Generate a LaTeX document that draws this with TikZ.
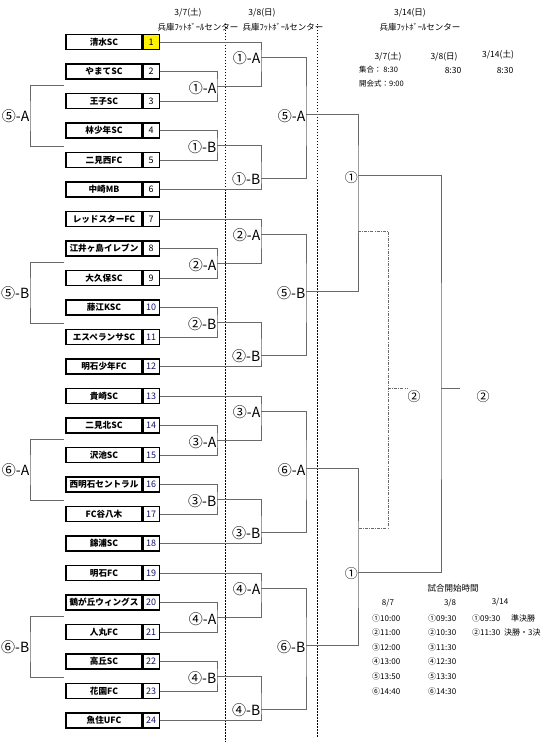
\documentclass[tikz,border=0pt]{standalone}
\usepackage{fontspec}
\setmainfont{Noto Sans CJK JP}
\usetikzlibrary{positioning}
\definecolor{numblue}{RGB}{20,20,110}
\definecolor{linegray}{RGB}{105,105,105}

\begin{document}
\begin{tikzpicture}[
	x=1pt, y=-1pt,
	teambox/.style={draw, line width=1.1pt, minimum width=76pt, minimum height=15pt, inner sep=0pt, font=\fontsize{8.6}{10}\selectfont\bfseries},
	numbox/.style={draw, line width=1.1pt, minimum width=16pt, minimum height=15pt, inner sep=0pt, font=\fontsize{9}{10}\selectfont},
	bracket/.style={draw=linegray, line width=0.9pt},
	thirdline/.style={draw=linegray, line width=0.8pt, dash pattern=on 3pt off 1.2pt on 0.8pt off 1.2pt},
	dayline/.style={line width=0.6pt, dash pattern=on 1.5pt off 1.5pt},
	rlabel/.style={anchor=east, inner sep=0.5pt, font=\fontsize{14}{15}\selectfont},
	finlabel/.style={inner sep=0pt, font=\fontsize{13}{14}\selectfont},
	headtext/.style={inner sep=0pt, font=\fontsize{8.5}{10}\selectfont},
	schedtext/.style={inner sep=0pt, font=\fontsize{8}{10}\selectfont},
	notetext/.style={inner sep=0pt, font=\fontsize{7.5}{9}\selectfont}
	]
	\useasboundingbox (0,0) rectangle (555,743);

	% day separators
	\draw[dayline] (225,24) -- (225,742);
	\draw[dayline] (317,24) -- (317,737);

	% headers
	\node[headtext] (d1) at (188,13) {3/7(土)};
	\node[headtext] (v1) at (198,27) {兵庫ﾌｯﾄﾎﾞｰﾙセンター};
	\node[headtext] (d2) at (262,13) {3/8(日)};
	\node[headtext] (v2) at (283,27) {兵庫ﾌｯﾄﾎﾞｰﾙセンター};
	\node[headtext] (d3) at (410,13) {3/14(日)};
	\node[headtext] (v3) at (420,27) {兵庫ﾌｯﾄﾎﾞｰﾙセンター};

	% teams
	\foreach \name [count=\i] in {清水SC, やまてSC, 王子SC, 林少年SC, 二見西FC, 中崎MB,
		レッドスターFC, 江井ヶ島イレブン, 大久保SC, 藤江KSC, エスペランサSC, 明石少年FC,
		貴崎SC, 二見北SC, 沢池SC, 西明石セントラル, FC谷八木, 錦浦SC,
		明石FC, 鶴が丘ウィングス, 人丸FC, 高丘SC, 花園FC, 魚住UFC} {
		\pgfmathsetmacro\yy{42+29.5*(\i-1)}
		\ifnum\i=1 \def\nfill{yellow}\else\def\nfill{white}\fi
		\node[teambox] (t\i) at (104,\yy) {\name};
		\node[numbox, fill=\nfill, right=0pt of t\i] (n\i) {\ifnum\i>9\color{numblue}\fi\i};
	}

	% blocks of six
	\foreach \g/\c/\s in {0/①/⑤-A, 1/②/⑤-B, 2/③/⑥-A, 3/④/⑥-B} {
		\pgfmathsetmacro\yo{42+177*\g}
		\pgfmathtruncatemacro\ta{6*\g+1}
		\pgfmathtruncatemacro\tb{6*\g+2}
		\pgfmathtruncatemacro\tc{6*\g+3}
		\pgfmathtruncatemacro\td{6*\g+4}
		\pgfmathtruncatemacro\te{6*\g+5}
		\pgfmathtruncatemacro\tf{6*\g+6}
		\coordinate (p\g) at (217,\yo+44.25);
		\coordinate (q\g) at (217,\yo+103.25);
		\coordinate (pa\g) at (261,\yo+15);
		\coordinate (pb\g) at (261,\yo+136);
		\coordinate (s\g) at (306,\yo+72);
		\draw[bracket] (n\tb.east) -| (p\g) |- (n\tc.east);
		\draw[bracket] (n\td.east) -| (q\g) |- (n\te.east);
		\draw[bracket] (n\ta.east) -| (pa\g) |- (p\g);
		\draw[bracket] (n\tf.east) -| (pb\g) |- (q\g);
		\draw[bracket] (pa\g) -| (s\g) |- (pb\g);
		\node[rlabel] (la\g) at ([yshift=-2pt]p\g) {\c-A};
		\node[rlabel] (lb\g) at ([yshift=-2pt]q\g) {\c-B};
		\node[rlabel] (ma\g) at ([yshift=-1pt]pa\g) {\c-A};
		\node[rlabel] (mb\g) at ([yshift=-1pt]pb\g) {\c-B};
		\node[rlabel] (ms\g) at ([yshift=-2pt]s\g) {\s};
		% left side pairing
		\coordinate (lu\g) at (64,\yo+43);
		\coordinate (ld\g) at (64,\yo+104);
		\coordinate (lm\g) at (30,\yo+74);
		\draw[bracket] (lu\g) -| (lm\g) |- (ld\g);
		\node[rlabel] (ls\g) at (lm\g) {\s};
	}

	% semifinals and final
	\coordinate (f0) at (358,175);
	\coordinate (f1) at (358,572);
	\coordinate (fin) at (441,388);
	\coordinate (champ) at (460,388);
	\draw[bracket] (s0) -| (f0) |- (s1);
	\draw[bracket] (s2) -| (f1) |- (s3);
	\draw[bracket] (f0) -| (fin) |- (f1);
	\draw[bracket] (fin) -- (champ);
	\node[finlabel, anchor=east] (sf0) at ([yshift=-3pt]f0) {①};
	\node[finlabel, anchor=east] (sf1) at ([yshift=-2pt]f1) {①};
	\node[finlabel] (fl) at (483,397) {②};

	% third place
	\coordinate (ta) at (358,231);
	\coordinate (tb) at (358,528);
	\coordinate (tm) at (388,388);
	\coordinate (tc) at (407,388);
	\draw[thirdline] (ta) -| (tm) |- (tb);
	\draw[thirdline] (tm) -- (tc);
	\node[finlabel] (tl) at (414,397) {②};

	% gathering times
	\node[headtext] (g1) at (388,57) {3/7(土)};
	\node[headtext] (g2) at (444,57) {3/8(日)};
	\node[headtext] (g3) at (498,55) {3/14(土)};
	\node[notetext, anchor=west] (g4) at (359,70) {集合：\ 8:30};
	\node[headtext] (g5) at (453,70) {8:30};
	\node[headtext] (g6) at (505,70) {8:30};
	\node[notetext, anchor=west] (g7) at (359,84) {開会式：9:00};

	% kick-off times
	\node[schedtext, font=\fontsize{8.5}{10}\selectfont] (k0) at (453,588) {試合開始時間};
	\node[schedtext] (h1) at (388,603) {8/7};
	\node[schedtext] (h2) at (450,603) {3/8};
	\node[schedtext] (h3) at (500,602) {3/14};
	\foreach \a/\b [count=\k] in {①10:00/①09:30, ②11:00/②10:30, ③12:00/③11:30,
		④13:00/④12:30, ⑤13:50/⑤13:30, ⑥14:40/⑥14:30} {
		\pgfmathsetmacro\yk{618+14.6*(\k-1)}
		\node[schedtext, anchor=west] (ka\k) at (372,\yk) {\a};
		\node[schedtext, anchor=west] (kb\k) at (428,\yk) {\b};
	}
	\node[schedtext, anchor=west] (kc1) at (472,618) {①09:30\hspace{11pt}準決勝};
	\node[schedtext, anchor=west] (kc2) at (472,632.6) {②11:30\hspace{4pt}決勝・3決};
\end{tikzpicture}
\end{document}
